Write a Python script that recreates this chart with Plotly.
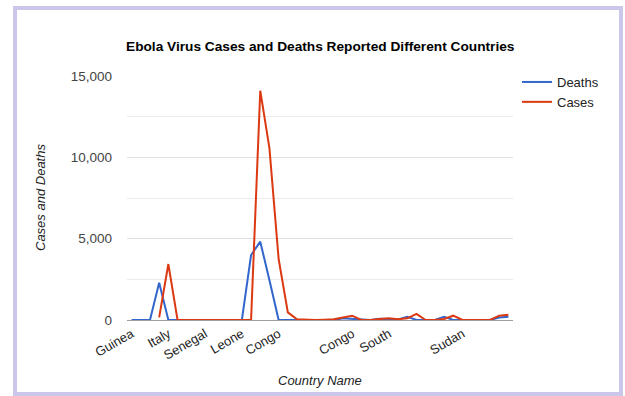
import plotly.graph_objects as go

# Category positions (42 reporting entries) and the labels shown on the axis
n_categories = 42
tick_idx = [0, 4, 8, 12, 16, 24, 28, 36]
tick_labels = ["Guinea", "Italy", "Senegal", "Leone", "Congo", "Congo", "South", "Sudan"]

deaths = [0, 0, 0, 2290, 0, 0, 0, 0, 0, 0, 0, 0, 0, 3996, 4815, 2450, 0, 0, 0, 0,
          0, 0, 0, 100, 60, 0, 0, 80, 80, 40, 200, 0, 0, 0, 200, 0, 0, 0, 0, 0,
          150, 200]
cases = [None, None, None, 165, 3440, 0, 0, 0, 0, 0, 0, 0, 0, 0, 14097, 10555, 3750, 470, 40, 0,
         0, 20, 40, 160, 265, 0, 0, 60, 100, 50, 100, 380, 0, 0, 60, 265, 0, 0, 0, 0,
         265, 326]

x_idx = list(range(n_categories))

W, H = 625, 396
ML, MR, MT, MB = 127, 112, 76, 76
PW, PH = W - ML - MR, H - MT - MB


def px_x(px):
    return (px - ML) / PW


def px_y(py):
    return (H - MB - py) / PH


FONT = "Liberation Sans, Arial, sans-serif"

fig = go.Figure()
fig.add_trace(go.Scatter(x=x_idx, y=deaths, name="Deaths", mode="lines",
                         line=dict(color="#3366cc", width=2)))
fig.add_trace(go.Scatter(x=x_idx, y=cases, name="Cases", mode="lines",
                         line=dict(color="#dc3912", width=2)))

fig.update_layout(
    width=W, height=H,
    margin=dict(l=ML, r=MR, t=MT, b=MB, autoexpand=False),
    paper_bgcolor="white", plot_bgcolor="white",
    font=dict(family=FONT, size=13, color="#222222"),
    showlegend=True,
    legend=dict(x=px_x(517), y=px_y(67), xanchor="left", yanchor="top",
                font=dict(size=13, color="#222222"), bgcolor="rgba(0,0,0,0)",
                tracegroupgap=0),
    xaxis=dict(range=[-0.5, n_categories - 0.5], tickmode="array",
               tickvals=tick_idx, ticktext=tick_labels, tickangle=-30,
               showgrid=False, zeroline=False, showline=False, ticks="",
               ticklabelstandoff=3,
               tickfont=dict(size=13, color="#222222")),
    yaxis=dict(range=[0, 15000], tickmode="linear", tick0=0, dtick=5000,
               tickformat=",", showgrid=True, gridcolor="#e0e0e0", gridwidth=1,
               minor=dict(dtick=2500, showgrid=True, gridcolor="#ebebeb"),
               zeroline=True, zerolinecolor="#9e9e9e", zerolinewidth=1,
               showline=False, ticks="", ticklabelstandoff=14,
               tickfont=dict(size=13.5, color="#444444")),
    annotations=[
        dict(text="<b>Ebola Virus Cases and Deaths Reported Different Countries</b>",
             xref="paper", yref="paper", x=px_x(124), y=px_y(47),
             xanchor="left", yanchor="middle", showarrow=False,
             font=dict(size=13.7, color="#000000")),
        dict(text="<i>Cases and Deaths</i>", xref="paper", yref="paper",
             x=px_x(40), y=px_y(198), textangle=-90, showarrow=False,
             xanchor="center", yanchor="middle",
             font=dict(size=13, color="#222222")),
        dict(text="<i>Country Name</i>", xref="paper", yref="paper",
             x=px_x(320), y=px_y(380), showarrow=False,
             xanchor="center", yanchor="middle",
             font=dict(size=13, color="#222222")),
    ],
    shapes=[
        dict(type="rect", xref="paper", yref="paper",
             x0=px_x(15), x1=px_x(621), y0=px_y(394), y1=px_y(8),
             line=dict(color="#cbc7ea", width=4), fillcolor="rgba(0,0,0,0)",
             layer="below"),
    ],
)

fig.write_html("out.html")
